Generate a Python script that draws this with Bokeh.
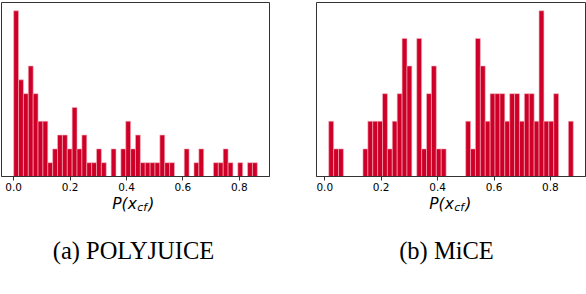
import numpy as np
from bokeh.plotting import figure
from bokeh.layouts import row, column
from bokeh.models import Range1d, FixedTicker, NumeralTickFormatter, Label
from bokeh.embed import file_html
from bokeh.resources import INLINE

# ---- data (50-bin histograms) ----
counts_polyjuice = [12, 7, 6, 8, 6, 4, 4, 1, 2, 3,
                    3, 2, 5, 2, 3, 1, 1, 2, 1, 0,
                    2, 0, 2, 4, 2, 3, 1, 1, 1, 1,
                    3, 1, 1, 0, 0, 2, 0, 1, 2, 0,
                    0, 1, 1, 2, 1, 0, 1, 0, 1, 1]
counts_mice = [2, 1, 1, 0, 0, 0, 0, 1, 2, 2,
               2, 3, 1, 2, 3, 5, 4, 0, 5, 1,
               3, 4, 1, 1, 0, 0, 0, 0, 2, 1,
               5, 4, 2, 3, 3, 3, 2, 3, 3, 2,
               3, 3, 2, 6, 2, 2, 3, 0, 0, 2]
range_polyjuice = (0.0, 0.864)
range_mice = (0.014, 0.881)
tick_values = [0.0, 0.2, 0.4, 0.6, 0.8]
captions = ["(a) POLYJUICE", "(b) MiCE"]
xlabel_main = "P(x"
xlabel_sub = "cf"
xlabel_close = ")"

BAR = "#cf0028"
EDGE = "#f3b3bf"
SPINE = "#333333"
TOP = 2
FRAME_H = 174
TOP_H = 196
BOT_H = 98


def hist_panel(counts, rng, width, bl, br):
    lo, hi = rng
    n = len(counts)
    edges = np.linspace(lo, hi, n + 1)
    span = hi - lo
    ymax = max(counts)
    p = figure(width=width, height=TOP_H, output_backend="svg", toolbar_location=None,
               x_range=Range1d(lo - 0.05 * span, hi + 0.05 * span),
               y_range=Range1d(0, ymax * 1.05),
               y_axis_location=None,
               min_border_left=bl, min_border_right=br,
               min_border_top=TOP, min_border_bottom=TOP_H - TOP - FRAME_H)
    p.grid.visible = False
    p.outline_line_color = SPINE
    p.outline_line_width = 1
    p.background_fill_color = "white"
    p.border_fill_color = "white"

    c = np.asarray(counts, dtype=float)
    mask = c > 0
    p.quad(left=edges[:-1][mask], right=edges[1:][mask], bottom=0, top=c[mask],
           fill_color=BAR, line_color=EDGE, line_width=0.6)

    ax = p.xaxis[0]
    ax.ticker = FixedTicker(ticks=tick_values, minor_ticks=[])
    ax.formatter = NumeralTickFormatter(format="0.0")
    ax.axis_line_color = SPINE
    ax.major_tick_line_color = SPINE
    ax.major_tick_out = 4
    ax.major_tick_in = 0
    ax.minor_tick_out = 0
    ax.minor_tick_in = 0
    ax.major_label_text_font = "DejaVu Sans"
    ax.major_label_text_font_size = "10.5px"
    ax.major_label_text_color = "black"
    ax.major_label_standoff = 2
    return p


def text_panel(width, label_cx, caption, cap_cx):
    p = figure(width=width, height=BOT_H, output_backend="svg", toolbar_location=None,
               x_range=Range1d(0, width), y_range=Range1d(0, BOT_H),
               x_axis_location=None, y_axis_location=None,
               min_border_left=0, min_border_right=0, min_border_top=0, min_border_bottom=0)
    p.grid.visible = False
    p.outline_line_color = None
    p.background_fill_color = "white"
    p.border_fill_color = "white"
    fs_main, fs_sub = 15.5, 11
    w_main = 1.585 * fs_main
    w_sub = 0.902 * fs_sub
    w_close = 0.39 * fs_main
    total = w_main + w_sub + w_close + 2
    x0 = label_cx - total / 2.0
    base_y = TOP_H + BOT_H - 203
    for txt, xx, yy, fs in [(xlabel_main, x0, base_y, fs_main),
                            (xlabel_sub, x0 + w_main + 0.5, base_y - 3.5, fs_sub),
                            (xlabel_close, x0 + w_main + w_sub + 1.5, base_y, fs_main)]:
        p.add_layout(Label(x=xx, y=yy, text=txt,
                           text_font="DejaVu Sans", text_font_style="italic",
                           text_font_size=f"{fs}px", text_color="black",
                           text_baseline="alphabetic", text_align="left"))
    p.add_layout(Label(x=cap_cx, y=TOP_H + BOT_H - 250, text=caption,
                       text_font="Liberation Serif", text_font_size="24.5px",
                       text_color="black", text_align="center", text_baseline="alphabetic"))
    return p


pa = hist_panel(counts_polyjuice, range_polyjuice, 300, 1, 31)
pb = hist_panel(counts_mice, range_mice, 286, 16, 1)
ta = text_panel(300, 133, captions[0], 133)
tb = text_panel(286, 150, captions[1], 146)
layout = column(row(pa, pb, spacing=0), row(ta, tb, spacing=0), spacing=0)

open("out.html", "w").write(file_html(layout, INLINE))
